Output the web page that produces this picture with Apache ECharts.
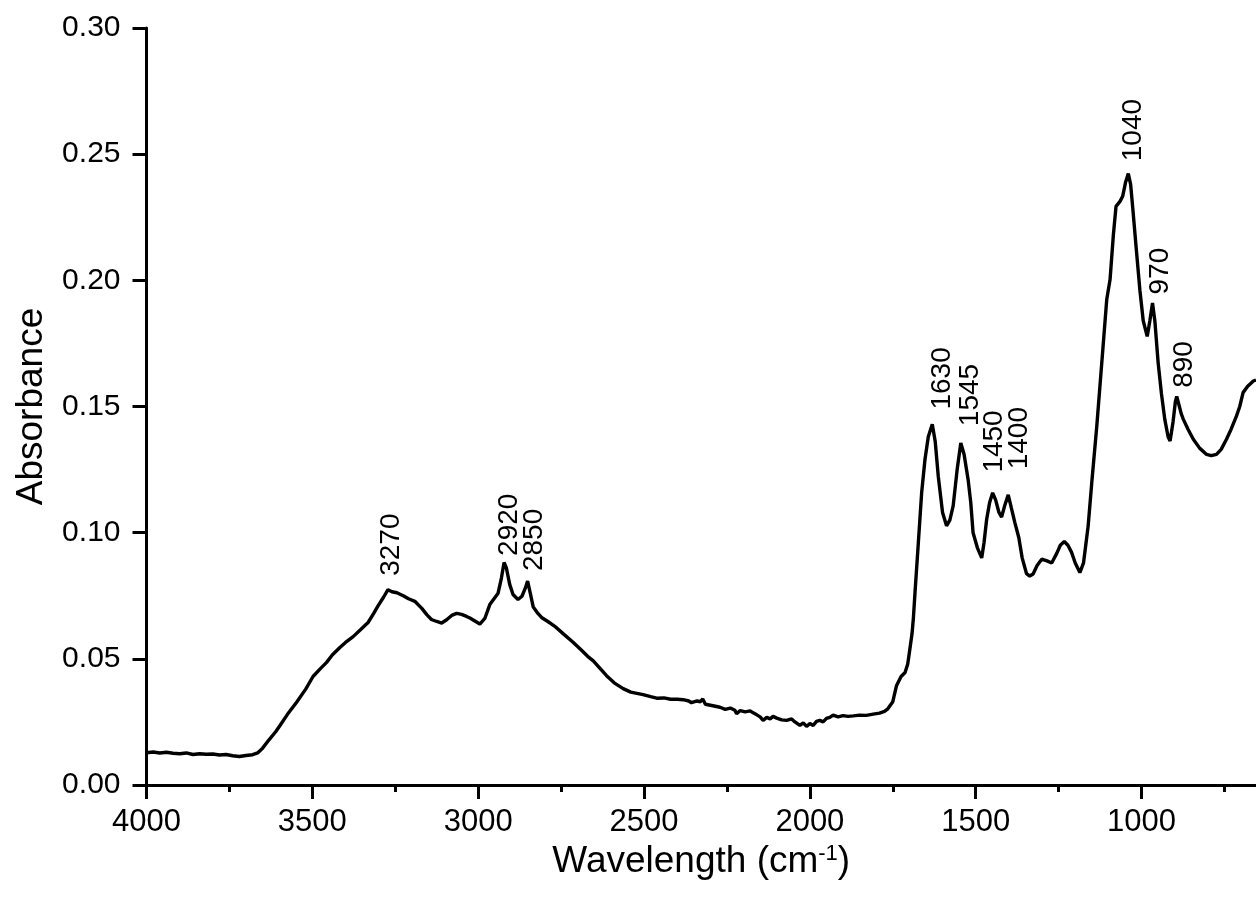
<!DOCTYPE html>
<html>
<head>
<meta charset="utf-8">
<script src="https://cdn.jsdelivr.net/npm/echarts@6/dist/echarts.min.js"></script>
<style>
html,body{margin:0;padding:0;background:#fff;}
#chart{width:1256px;height:897px;}
</style>
</head>
<body>
<div id="chart"></div>
<script>
// Wavenumber (cm-1) and absorbance
var wavenumber = [
4000,3980,3960,3940,3920,3900,3880,3860,3840,3820,3800,3780,3760,3740,3720,3700,3680,3665,3650,3630,
3610,3598,3575,3548,3520,3498,3475,3457,3440,3417,3400,3377,3355,3332,3315,3302,3285,3272,3260,3245,
3226,3210,3191,3170,3155,3141,3125,3110,3095,3080,3065,3050,3035,3025,3010,2995,2980,2965,2950,2940,
2930,2922,2915,2905,2895,2880,2868,2858,2851,2843,2834,2820,2809,2790,2770,2744,2714,2690,2670,2653,
2630,2613,2590,2563,2540,2503,2480,2462,2440,2420,2400,2382,2365,2357,2340,2330,2323,2315,2300,2285,
2271,2255,2240,2226,2221,2210,2195,2180,2171,2160,2150,2141,2130,2120,2111,2100,2085,2070,2055,2045,
2030,2020,2010,2000,1990,1980,1970,1960,1950,1940,1930,1915,1900,1885,1869,1850,1830,1809,1790,1775,
1765,1750,1739,1725,1713,1705,1700,1692,1688,1683,1673,1663,1653,1643,1631,1622,1613,1600,1588,1578,
1568,1556,1545,1535,1523,1515,1508,1495,1482,1475,1467,1458,1449,1440,1430,1422,1412,1402,1393,1382,
1370,1360,1347,1337,1327,1315,1301,1285,1271,1255,1245,1233,1222,1211,1200,1186,1175,1161,1150,1135,
1116,1105,1095,1085,1077,1065,1057,1048,1040,1033,1027,1015,1005,995,983,975,967,960,950,940,
930,920,914,905,898,894,888,880,874,860,844,825,804,790,774,760,744,730,714,704,
694,680,663,655
];
var absorbance = [
0.0128,0.0131,0.0127,0.0130,0.0126,0.0124,0.0127,0.0121,0.0124,0.0122,0.0123,0.0119,0.0121,0.0116,0.0113,0.0117,0.0120,0.0127,0.0146,0.0180,
0.0212,0.0235,0.0280,0.0327,0.0380,0.0430,0.0462,0.0486,0.0515,0.0545,0.0565,0.0588,0.0615,0.0644,0.0680,0.0710,0.0745,0.0774,0.0766,0.0762,
0.0750,0.0738,0.0728,0.0700,0.0675,0.0656,0.0648,0.0642,0.0655,0.0672,0.0680,0.0676,0.0668,0.0662,0.0650,0.0638,0.0660,0.0715,0.0742,0.0760,
0.0820,0.0882,0.0860,0.0795,0.0755,0.0735,0.0748,0.0780,0.0808,0.0760,0.0705,0.0680,0.0664,0.0648,0.0630,0.0600,0.0566,0.0536,0.0510,0.0492,
0.0458,0.0433,0.0405,0.0382,0.0368,0.0358,0.0350,0.0344,0.0345,0.0340,0.0340,0.0338,0.0333,0.0326,0.0333,0.0330,0.0341,0.0320,0.0316,0.0312,
0.0308,0.0300,0.0305,0.0296,0.0282,0.0295,0.0290,0.0294,0.0286,0.0278,0.0270,0.0256,0.0268,0.0262,0.0272,0.0265,0.0258,0.0256,0.0262,0.0250,
0.0236,0.0246,0.0232,0.0244,0.0236,0.0252,0.0256,0.0250,0.0264,0.0268,0.0277,0.0270,0.0275,0.0272,0.0274,0.0277,0.0276,0.0281,0.0285,0.0292,
0.0302,0.0330,0.0393,0.0430,0.0446,0.0480,0.0525,0.0600,0.0660,0.0763,0.0960,0.1159,0.1290,0.1380,0.1430,0.1360,0.1224,0.1080,0.1027,0.1050,
0.1106,0.1250,0.1355,0.1310,0.1211,0.1120,0.1000,0.0940,0.0900,0.0960,0.1053,0.1120,0.1158,0.1130,0.1080,0.1062,0.1110,0.1150,0.1100,0.1040,
0.0980,0.0900,0.0838,0.0828,0.0836,0.0870,0.0895,0.0888,0.0880,0.0920,0.0950,0.0965,0.0950,0.0922,0.0880,0.0842,0.0880,0.1027,0.1200,0.1422,
0.1739,0.1924,0.2003,0.2180,0.2293,0.2313,0.2333,0.2390,0.2423,0.2380,0.2293,0.2110,0.1960,0.1840,0.1778,0.1840,0.1910,0.1840,0.1673,0.1550,
0.1449,0.1380,0.1363,0.1440,0.1520,0.1540,0.1510,0.1470,0.1449,0.1410,0.1370,0.1335,0.1310,0.1305,0.1310,0.1330,0.1370,0.1410,0.1462,0.1500,
0.1555,0.1580,0.1601,0.1605
];

// Peak annotations
var peakLabels = ['3270','2920','2850','1630','1545','1450','1400','1040','970','890'];
var peakLabelX = [3262,2906,2830,1600,1515,1443,1368,1025,943,872];
var peakLabelY = [0.0829,0.0908,0.0848,0.1488,0.1422,0.1238,0.1251,0.2472,0.1944,0.1574];

// Axis ticks
var yTicks = [0,0.05,0.10,0.15,0.20,0.25,0.30];
var xMajorTicks = [4000,3500,3000,2500,2000,1500,1000];
var xMinorTicks = [3750,3250,2750,2250,1750,1250,750];
var xMin = 655, xMax = 4000;

var spectrum = wavenumber.map(function(w,i){return [w, absorbance[i]];});
var peaks = peakLabels.map(function(t,i){return {name:t, value:[peakLabelX[i], peakLabelY[i]]};});

var FONT = 'Arial, "Liberation Sans", Helvetica, sans-serif';
var chart = echarts.init(document.getElementById('chart'), null, {renderer:'canvas'});
chart.setOption({
  animation:false,
  backgroundColor:'#ffffff',
  grid:{left:146.5, right:0, top:28, bottom:112, containLabel:false},
  xAxis:[{
    type:'value', inverse:true, min:xMin, max:xMax,
    name:'Wavelength (cm{sup|-1})', nameLocation:'middle', nameGap:42,
    nameTextStyle:{color:'#000', fontSize:37, fontFamily:FONT,
      rich:{sup:{fontSize:22, fontFamily:FONT, color:'#000', verticalAlign:'top', padding:[0,0,14,0]}}},
    axisLine:{show:true, onZero:false, lineStyle:{color:'#000', width:3}},
    axisTick:{show:true, inside:false, length:14, lineStyle:{color:'#000', width:3}, customValues:xMajorTicks},
    axisLabel:{show:true, color:'#000', fontSize:31, fontFamily:FONT, margin:22, customValues:xMajorTicks,
      formatter:function(v){return String(v);}},
    splitLine:{show:false}
  },{
    type:'value', inverse:true, min:xMin, max:xMax, position:'bottom',
    axisLine:{show:false},
    axisTick:{show:true, inside:false, length:7, lineStyle:{color:'#000', width:3}, customValues:xMinorTicks},
    axisLabel:{show:false},
    splitLine:{show:false}
  }],
  yAxis:{
    type:'value', min:0, max:0.30, interval:0.05,
    name:'Absorbance', nameLocation:'middle', nameGap:96, nameRotate:90,
    nameTextStyle:{color:'#000', fontSize:37, fontFamily:FONT},
    axisLine:{show:true, onZero:false, lineStyle:{color:'#000', width:3}},
    axisTick:{show:true, inside:false, length:14, lineStyle:{color:'#000', width:3}},
    axisLabel:{show:true, color:'#000', fontSize:30, fontFamily:FONT, margin:26,
      formatter:function(v){return v.toFixed(2);}},
    splitLine:{show:false}
  },
  series:[{
    type:'line', xAxisIndex:0, data:spectrum, showSymbol:false, symbol:'none',
    lineStyle:{color:'#000', width:3.4}, clip:true, z:3
  },{
    type:'scatter', xAxisIndex:0, data:peaks, symbolSize:0, z:4,
    itemStyle:{opacity:1, color:'#000'},
    label:{show:true, formatter:'{b}', position:'inside', rotate:90, align:'left', verticalAlign:'middle',
      color:'#000', opacity:1, fontSize:28, fontFamily:FONT}
  }]
});
</script>
</body>
</html>
